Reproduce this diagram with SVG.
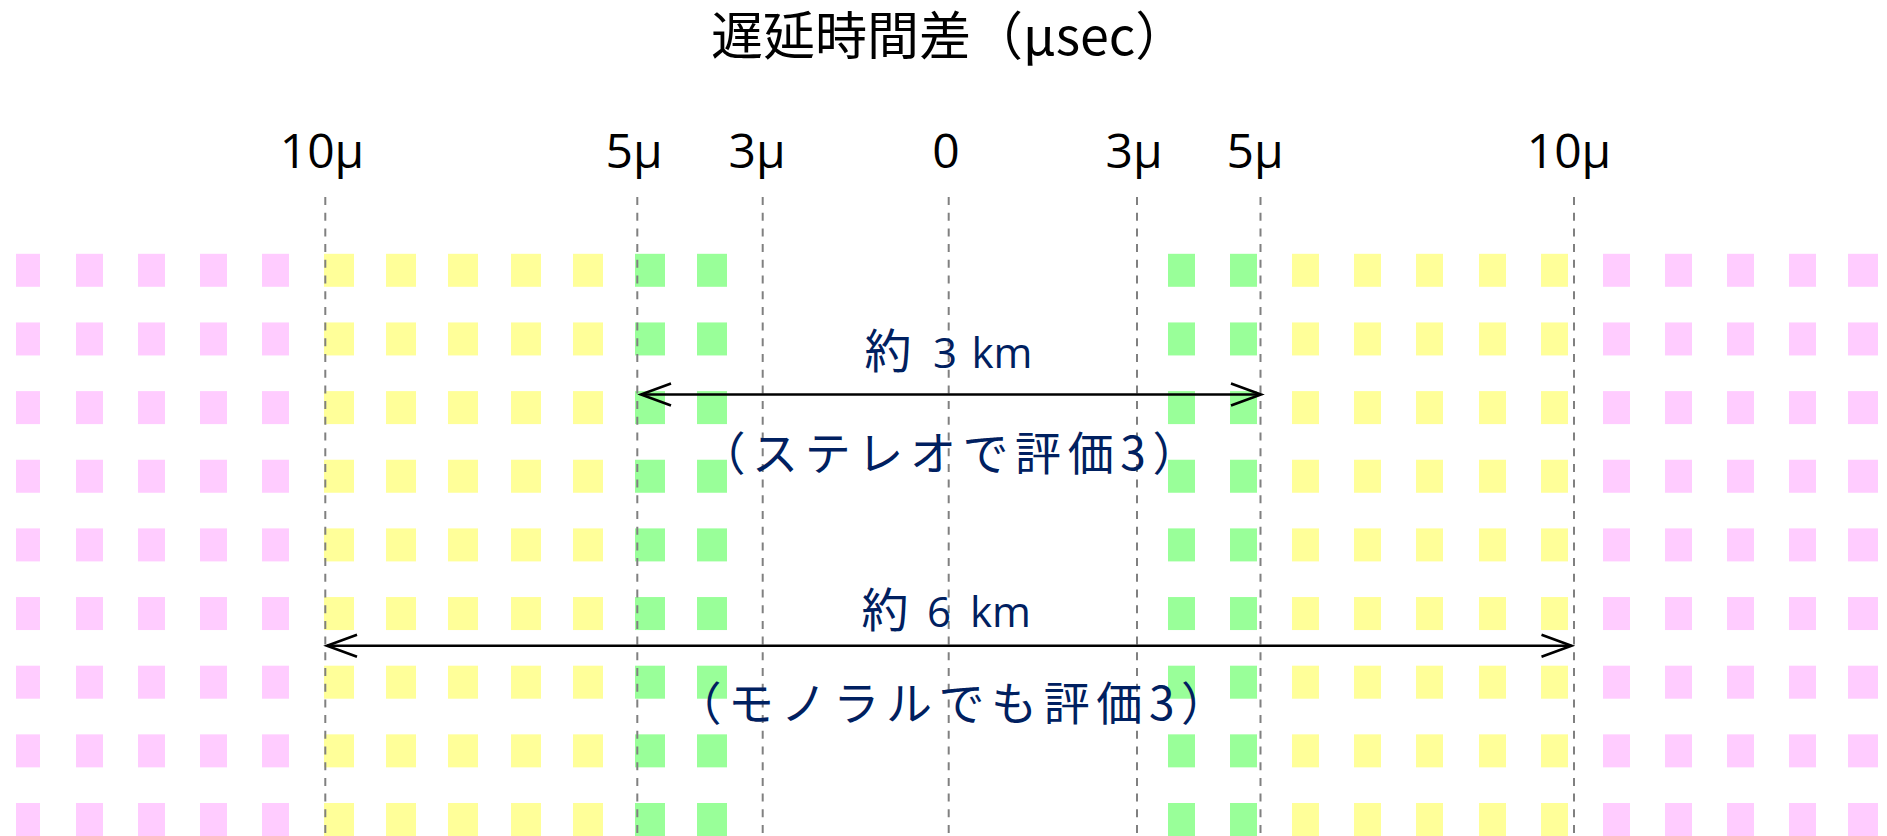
<svg xmlns="http://www.w3.org/2000/svg" xmlns:xlink="http://www.w3.org/1999/xlink" width="1887" height="836" viewBox="0 0 1887 836">
<style>
.pk{fill:#FFCCFF}
.yl{fill:#FFFF99}
.gr{fill:#99FF99}
.grid{stroke:#808080;stroke-width:2;stroke-dasharray:8 7.7;fill:none}
.arrow{stroke:#000;stroke-width:2.4;fill:none;marker-start:url(#arr);marker-end:url(#arr)}
.cjk{font-family:'Noto Sans CJK JP',sans-serif}
.lat{font-family:'Open Sans','Noto Sans CJK JP',sans-serif}
.axis{font-size:48px;fill:#000;text-anchor:middle}
.blue{fill:#002060}
.jp{font-size:46px;letter-spacing:6.6px}
</style>
<defs>
<marker id="arr" markerUnits="userSpaceOnUse" orient="auto-start-reverse" markerWidth="40" markerHeight="30" viewBox="-35 -15 40 30" refX="0" refY="0" overflow="visible">
<path d="M-30,-11 L0,0 L-30,11" fill="none" stroke="#000" stroke-width="2.6" stroke-linejoin="miter"/>
</marker>
<g id="c27">
<rect x="0" y="253.8" width="27" height="33"/>
<rect x="0" y="322.45" width="27" height="33"/>
<rect x="0" y="391.1" width="27" height="33"/>
<rect x="0" y="459.75" width="27" height="33"/>
<rect x="0" y="528.4" width="27" height="33"/>
<rect x="0" y="597.05" width="27" height="33"/>
<rect x="0" y="665.7" width="27" height="33"/>
<rect x="0" y="734.35" width="27" height="33"/>
<rect x="0" y="803" width="27" height="33"/>
</g>
<g id="c30">
<rect x="0" y="253.8" width="30" height="33"/>
<rect x="0" y="322.45" width="30" height="33"/>
<rect x="0" y="391.1" width="30" height="33"/>
<rect x="0" y="459.75" width="30" height="33"/>
<rect x="0" y="528.4" width="30" height="33"/>
<rect x="0" y="597.05" width="30" height="33"/>
<rect x="0" y="665.7" width="30" height="33"/>
<rect x="0" y="734.35" width="30" height="33"/>
<rect x="0" y="803" width="30" height="33"/>
</g>
<g id="c24">
<rect x="0" y="253.8" width="24" height="33"/>
<rect x="0" y="322.45" width="24" height="33"/>
<rect x="0" y="391.1" width="24" height="33"/>
<rect x="0" y="459.75" width="24" height="33"/>
<rect x="0" y="528.4" width="24" height="33"/>
<rect x="0" y="597.05" width="24" height="33"/>
<rect x="0" y="665.7" width="24" height="33"/>
<rect x="0" y="734.35" width="24" height="33"/>
<rect x="0" y="803" width="24" height="33"/>
</g>
</defs>
<rect width="1887" height="836" fill="#fff"/>
<g id="squares">
<use xlink:href="#c24" href="#c24" x="16" class="pk"/>
<use xlink:href="#c27" href="#c27" x="76" class="pk"/>
<use xlink:href="#c27" href="#c27" x="138" class="pk"/>
<use xlink:href="#c27" href="#c27" x="200" class="pk"/>
<use xlink:href="#c27" href="#c27" x="262" class="pk"/>
<use xlink:href="#c30" href="#c30" x="324" class="yl"/>
<use xlink:href="#c30" href="#c30" x="386" class="yl"/>
<use xlink:href="#c30" href="#c30" x="448" class="yl"/>
<use xlink:href="#c30" href="#c30" x="511" class="yl"/>
<use xlink:href="#c30" href="#c30" x="573" class="yl"/>
<use xlink:href="#c30" href="#c30" x="635" class="gr"/>
<use xlink:href="#c30" href="#c30" x="697" class="gr"/>
<use xlink:href="#c27" href="#c27" x="1168" class="gr"/>
<use xlink:href="#c27" href="#c27" x="1230" class="gr"/>
<use xlink:href="#c27" href="#c27" x="1292" class="yl"/>
<use xlink:href="#c27" href="#c27" x="1354" class="yl"/>
<use xlink:href="#c27" href="#c27" x="1416" class="yl"/>
<use xlink:href="#c27" href="#c27" x="1479" class="yl"/>
<use xlink:href="#c27" href="#c27" x="1541" class="yl"/>
<use xlink:href="#c27" href="#c27" x="1603" class="pk"/>
<use xlink:href="#c27" href="#c27" x="1665" class="pk"/>
<use xlink:href="#c27" href="#c27" x="1727" class="pk"/>
<use xlink:href="#c27" href="#c27" x="1789" class="pk"/>
<use xlink:href="#c30" href="#c30" x="1848" class="pk"/>
</g>
<g id="gridlines">
<line class="grid" x1="325.3" y1="197" x2="325.3" y2="836"/>
<line class="grid" x1="637.3" y1="197" x2="637.3" y2="836"/>
<line class="grid" x1="762.7" y1="197" x2="762.7" y2="836"/>
<line class="grid" x1="948.7" y1="197" x2="948.7" y2="836"/>
<line class="grid" x1="1137" y1="197" x2="1137" y2="836"/>
<line class="grid" x1="1260.5" y1="197" x2="1260.5" y2="836"/>
<line class="grid" x1="1574" y1="197" x2="1574" y2="836"/>
</g>
<g id="title">
<text class="cjk" font-size="52" fill="#000" x="711" y="55">遅延時間差（μsec）</text>
</g>
<g id="axis-labels">
<text class="lat axis" x="322" y="168">10μ</text>
<text class="lat axis" x="634" y="168">5μ</text>
<text class="lat axis" x="757" y="168">3μ</text>
<text class="lat axis" x="946" y="168">0</text>
<text class="lat axis" x="1134" y="168">3μ</text>
<text class="lat axis" x="1255" y="168">5μ</text>
<text class="lat axis" x="1569" y="168">10μ</text>
</g>
<g id="connectors">
<path class="arrow" d="M641,394.5 H1261"/>
<path class="arrow" d="M327,645.7 H1571.5"/>
</g>
<g id="label-stereo">
<text class="blue" y="368" text-anchor="middle"><tspan class="cjk" font-size="47" x="888">約</tspan><tspan class="lat" font-size="42" x="917 945 973 1002"> 3 km</tspan></text>
<text class="blue cjk jp" x="699.5" y="470">（ステレオで評価3）</text>
</g>
<g id="label-mono">
<text class="blue" y="627" text-anchor="middle"><tspan class="cjk" font-size="47" x="885">約</tspan><tspan class="lat" font-size="42" x="912 939 970 1000.5"> 6 km</tspan></text>
<text class="blue cjk jp" x="675.5" y="720">（モノラルでも評価3）</text>
</g>
</svg>
